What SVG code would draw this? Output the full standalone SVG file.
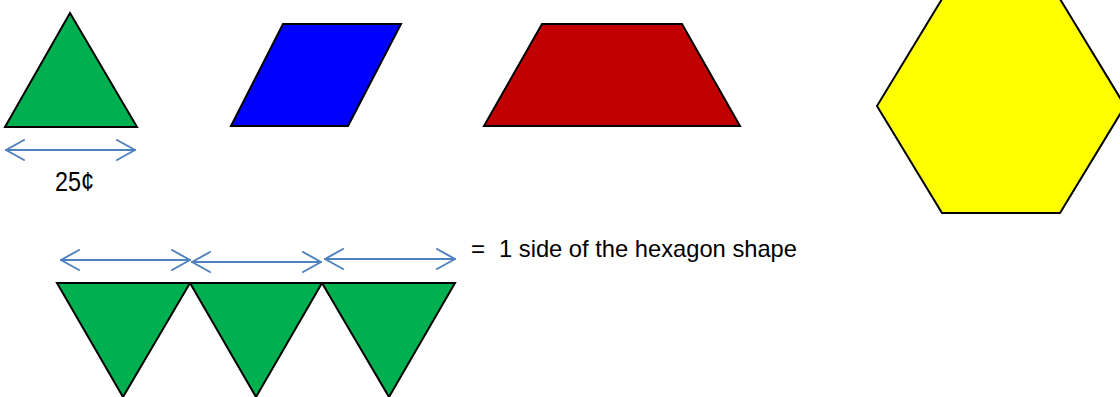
<svg xmlns="http://www.w3.org/2000/svg" width="1120" height="397" viewBox="0 0 1120 397">
  <style>
    .shape { stroke: #000; stroke-width: 2; stroke-linejoin: miter; }
    .green { fill: #00B050; }
    .conn { stroke: #4F81BD; stroke-width: 2; fill: none; stroke-linecap: round; stroke-linejoin: round; }
    .lbl { font-family: "Liberation Sans", Arial, sans-serif; fill: #000; }
  </style>
  <defs>
    <marker id="head" viewBox="0 0 20 22" refX="19" refY="11" markerWidth="20" markerHeight="22" markerUnits="userSpaceOnUse" orient="auto-start-reverse">
      <path d="M1,1 L19,11 L1,21" fill="none" stroke="#4F81BD" stroke-width="2" stroke-linecap="round" stroke-linejoin="round"/>
    </marker>
  </defs>
  <rect width="1120" height="397" fill="#fff"/>

  <g id="triangle-top">
    <polygon class="shape green" points="70,13 137,127 5,127"/>
  </g>
  <g id="rhombus">
    <polygon class="shape" fill="#0000FF" points="283,24 401,24 348,126 231,126"/>
  </g>
  <g id="trapezoid">
    <polygon class="shape" fill="#C00000" points="542,24 682,24 740,126 484,126"/>
  </g>
  <g id="hexagon">
    <polygon class="shape" fill="#FFFF00" points="877,106 942,-1 1060,-1 1125,106 1060,213 942,213"/>
  </g>
  <g id="triangle-1">
    <polygon class="shape green" points="57,283 190,283 123,397"/>
  </g>
  <g id="triangle-2">
    <polygon class="shape green" points="190,283 322,283 256,397"/>
  </g>
  <g id="triangle-3">
    <polygon class="shape green" points="322,283 455,283 389,397"/>
  </g>

  <g id="connectors">
    <line class="conn" x1="6" y1="150" x2="135" y2="150" marker-start="url(#head)" marker-end="url(#head)"/>
    <line class="conn" x1="61" y1="260" x2="190" y2="260" marker-start="url(#head)" marker-end="url(#head)"/>
    <line class="conn" x1="192" y1="262" x2="321" y2="262" marker-start="url(#head)" marker-end="url(#head)"/>
    <line class="conn" x1="325" y1="259" x2="455" y2="259" marker-start="url(#head)" marker-end="url(#head)"/>
  </g>

  <g id="labels">
    <text class="lbl" x="55" y="191" font-size="28" textLength="39" lengthAdjust="spacingAndGlyphs">25¢</text>
    <text class="lbl" x="471" y="257" font-size="24">=</text>
    <text class="lbl" x="499" y="257" font-size="24" textLength="298" lengthAdjust="spacingAndGlyphs">1 side of the hexagon shape</text>
  </g>
</svg>
